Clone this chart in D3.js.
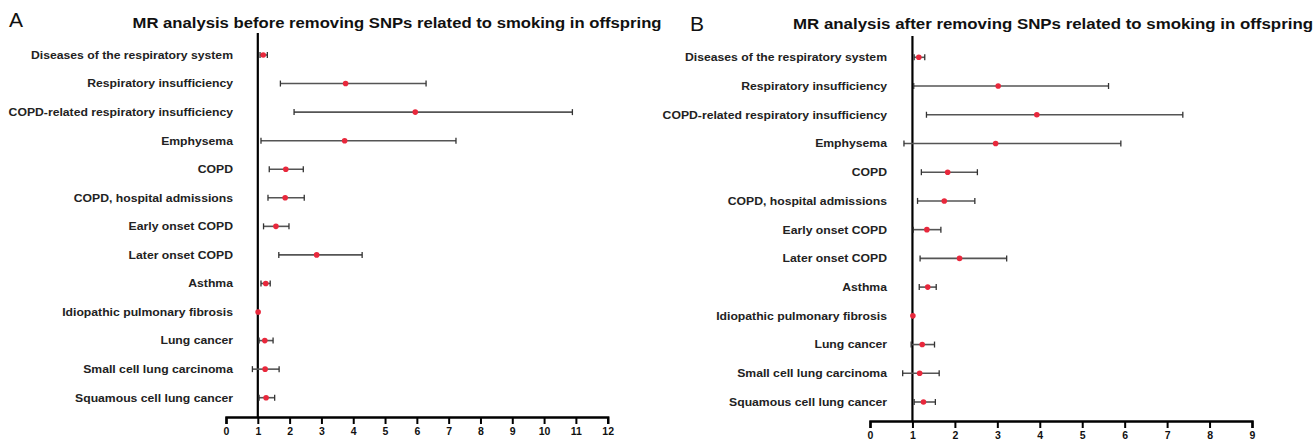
<!DOCTYPE html>
<html>
<head>
<meta charset="utf-8">
<script src="https://cdn.jsdelivr.net/npm/d3@7"></script>
<style>
  body { margin: 0; background: #fff; }
  svg { display: block; }
  text { font-family: "Liberation Sans", Arial, sans-serif; }
</style>
</head>
<body>
<script>
const outcomes = [
  "Diseases of the respiratory system",
  "Respiratory insufficiency",
  "COPD-related respiratory insufficiency",
  "Emphysema",
  "COPD",
  "COPD, hospital admissions",
  "Early onset COPD",
  "Later onset COPD",
  "Asthma",
  "Idiopathic pulmonary fibrosis",
  "Lung cancer",
  "Small cell lung carcinoma",
  "Squamous cell lung cancer"
]

// panel A: before removing smoking SNPs
const orA   = [1.17, 3.76, 5.95, 3.73, 1.88, 1.86, 1.57, 2.85, 1.25, 1.01, 1.22, 1.23, 1.26]
const lowA  = [1.07, 1.71, 2.14, 1.10, 1.36, 1.32, 1.18, 1.66, 1.10, 1.00, 1.04, 0.83, 1.04]
const highA = [1.30, 6.29, 10.89, 7.23, 2.43, 2.46, 1.98, 4.28, 1.39, 1.02, 1.48, 1.67, 1.53]
const ticksA = [0, 1, 2, 3, 4, 5, 6, 7, 8, 9, 10, 11, 12]

// panel B: after removing smoking SNPs
const orB   = [1.15, 3.02, 3.93, 2.96, 1.83, 1.75, 1.34, 2.11, 1.36, 1.01, 1.23, 1.17, 1.26]
const lowB  = [1.04, 1.03, 1.33, 0.80, 1.21, 1.12, 1.02, 1.18, 1.16, 1.00, 0.97, 0.77, 1.04]
const highB = [1.29, 5.62, 7.37, 5.91, 2.53, 2.47, 1.67, 3.22, 1.56, 1.02, 1.52, 1.63, 1.54]
const ticksB = [0, 1, 2, 3, 4, 5, 6, 7, 8, 9]

const width = 1315
const height = 444
const stretch = 1.11   // the source figure is a bit wider than tall

var svg = d3.select("body")
  .append("svg")
    .attr("width", width)
    .attr("height", height)

function drawPanel(p) {
  var g = svg.append("g")

  var x = d3.scaleLinear()
    .domain([p.ticks[0], p.ticks[p.ticks.length - 1]])
    .range([p.x0, p.x1])

  var y = d3.scalePoint()
    .domain(outcomes)
    .range([p.yTop, p.yBottom])

  // panel letter
  g.append("text")
    .attr("x", p.letterX)
    .attr("y", p.letterY)
    .attr("font-family", "'Open Sans', sans-serif")
    .attr("font-size", "21px")
    .attr("fill", "#111")
    .text(p.letter)

  // title
  g.append("text")
    .attr("x", p.titleX)
    .attr("y", p.titleY)
    .attr("text-anchor", "middle")
    .attr("font-weight", "bold")
    .attr("font-size", "14px")
    .attr("fill", "#111")
    .attr("textLength", p.titleW)
    .attr("lengthAdjust", "spacingAndGlyphs")
    .text(p.title)

  // null line at OR = 1
  g.append("line")
    .attr("x1", x(1)).attr("x2", x(1))
    .attr("y1", p.lineTop).attr("y2", p.axisY)
    .attr("stroke", "#000")
    .attr("stroke-width", 2.2)

  // axis
  var axis = g.append("g")
    .attr("transform", "translate(0," + p.axisY + ")")
    .call(d3.axisBottom(x).tickValues(p.ticks).tickSizeOuter(0).tickSize(7).tickPadding(4))
  axis.select(".domain").attr("stroke-width", 2.4)
  axis.selectAll(".tick line").attr("stroke-width", 2)
  axis.selectAll(".tick text")
    .attr("font-family", "'Liberation Sans', Arial, sans-serif")
    .attr("font-weight", "bold")
    .attr("font-size", "10.5px")
    .attr("fill", "#111")

  // row labels
  g.selectAll(".lab")
    .data(outcomes)
    .enter()
    .append("text")
      .attr("class", "lab")
      .attr("transform", d => "translate(" + p.labelX + "," + y(d) + ") scale(" + stretch + ",1)")
      .attr("dy", "0.35em")
      .attr("text-anchor", "end")
      .attr("font-weight", "bold")
      .attr("font-size", "11px")
      .attr("fill", "#222")
      .text(d => d)

  var rows = outcomes.map((d, i) => ({ name: d, or: p.or[i], lo: p.low[i], hi: p.high[i] }))

  // CI lines
  g.selectAll(".ci")
    .data(rows)
    .enter()
    .append("line")
      .attr("x1", d => x(d.lo)).attr("x2", d => x(d.hi))
      .attr("y1", d => y(d.name)).attr("y2", d => y(d.name))
      .attr("stroke", "#555")
      .attr("stroke-width", 1.6)

  // caps
  ;["lo", "hi"].forEach(function(k) {
    g.selectAll(".cap-" + k)
      .data(rows)
      .enter()
      .append("line")
        .attr("x1", d => x(d[k])).attr("x2", d => x(d[k]))
        .attr("y1", d => y(d.name) - 3).attr("y2", d => y(d.name) + 3)
        .attr("stroke", "#333")
        .attr("stroke-width", 1.3)
  })

  // points
  g.selectAll(".pt")
    .data(rows)
    .enter()
    .append("circle")
      .attr("cx", d => x(d.or))
      .attr("cy", d => y(d.name))
      .attr("r", 2.8)
      .attr("fill", "#e8283c")
}

drawPanel({
  letter: "A", letterX: 9, letterY: 27,
  title: "MR analysis before removing SNPs related to smoking in offspring", titleX: 397, titleY: 28, titleW: 529,
  ticks: ticksA, or: orA, low: lowA, high: highA,
  x0: 226, x1: 607.7, yTop: 55, yBottom: 397.7, axisY: 417, lineTop: 33, labelX: 233
})

drawPanel({
  letter: "B", letterX: 690, letterY: 31,
  title: "MR analysis after removing SNPs related to smoking in offspring", titleX: 1053, titleY: 29, titleW: 520,
  ticks: ticksB, or: orB, low: lowB, high: highB,
  x0: 870, x1: 1252, yTop: 57.3, yBottom: 402, axisY: 421, lineTop: 36, labelX: 887
})
</script>
</body>
</html>
